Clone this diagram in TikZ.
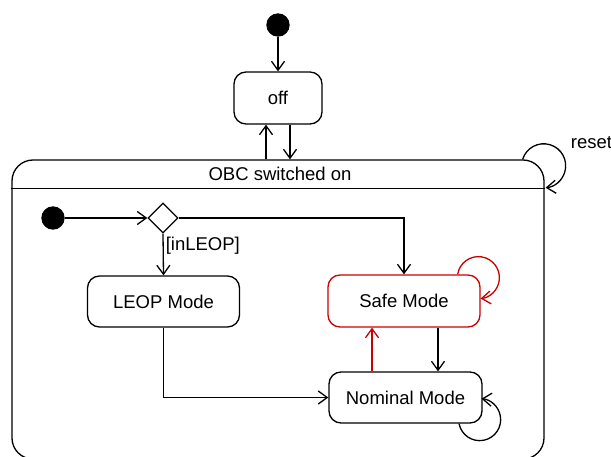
\documentclass[tikz,border=0pt]{standalone}
\usepackage{fontspec}
\setmainfont{Liberation Sans}
\usetikzlibrary{arrows.meta,shapes.geometric}
\definecolor{alertred}{RGB}{204,0,0}
\begin{document}
\begin{tikzpicture}[x=1pt,y=1pt,
  every node/.style={font=\fontsize{18.5}{22}\selectfont},
  line width=1.3pt,
  >={Straight Barb[length=9pt,width=13pt]},
  state/.style={draw,rectangle,rounded corners=12pt,inner sep=0pt},
  initdot/.style={draw,fill=black,circle,minimum size=22pt,inner sep=0pt},
  choice/.style={draw,diamond,minimum size=30pt,inner sep=0pt,aspect=1}]
\useasboundingbox (0,0) rectangle (611,456);

% composite state
\node[draw,rectangle,rounded corners=21pt,minimum width=532pt,minimum height=299pt,inner sep=0pt] (obc) at (278,146.5) {};
\draw[line width=0.9pt] (obc.north west |- 0,268) -- (obc.north east |- 0,268);
\node (obctitle) at (280,282) {OBC switched on};

% top level
\node[initdot] (start) at (278,431) {};
\node[state,minimum width=88pt,minimum height=52pt] (off) at (278,358) {off};

% inner states
\node[initdot] (istart) at (53,238) {};
\node[choice] (dec) at (163,238) {};
\node[state,minimum width=152pt,minimum height=51pt] (leop) at (163.5,154.5) {LEOP Mode};
\node[state,draw=alertred,minimum width=152pt,minimum height=52pt] (safe) at (404,155) {Safe Mode};
\node[state,minimum width=153pt,minimum height=51pt] (nom) at (405.5,58.5) {Nominal Mode};

% transitions
\draw[->] (start) -- (off.north);
\draw[->] ([xshift=-12pt]off.south |- obc.north) -- ([xshift=-12pt]off.south);
\draw[->] ([xshift=12pt]off.south) -- ([xshift=12pt]off.south |- obc.north);
\draw[->] ([xshift=-22pt]obc.north east) arc[start angle=163,end angle=-85,radius=22pt];
\node[anchor=west] (resetlbl) at (567,313) {reset};

\draw[->] (istart) -- (dec.west);
\draw[->] (dec.east) -| (safe.north);
\draw[->] (dec.south) -- node[pos=0.28,right,inner sep=2pt] (guard) {[inLEOP]} (leop.north);
\draw[->] (leop.south) |- (nom.west);
\draw[->] ([xshift=34pt]safe.south) -- ([xshift=34pt]safe.south |- nom.north);
\draw[->,alertred] ([xshift=-33.5pt]nom.north) -- ([xshift=-33.5pt]nom.north |- safe.south);
\draw[->,alertred] ([xshift=-23pt]safe.north east) arc[start angle=171,end angle=-84,radius=21pt];
\draw[->] ([xshift=-23.6pt]nom.south east) arc[start angle=191,end angle=445,radius=21pt];
\end{tikzpicture}
\end{document}
